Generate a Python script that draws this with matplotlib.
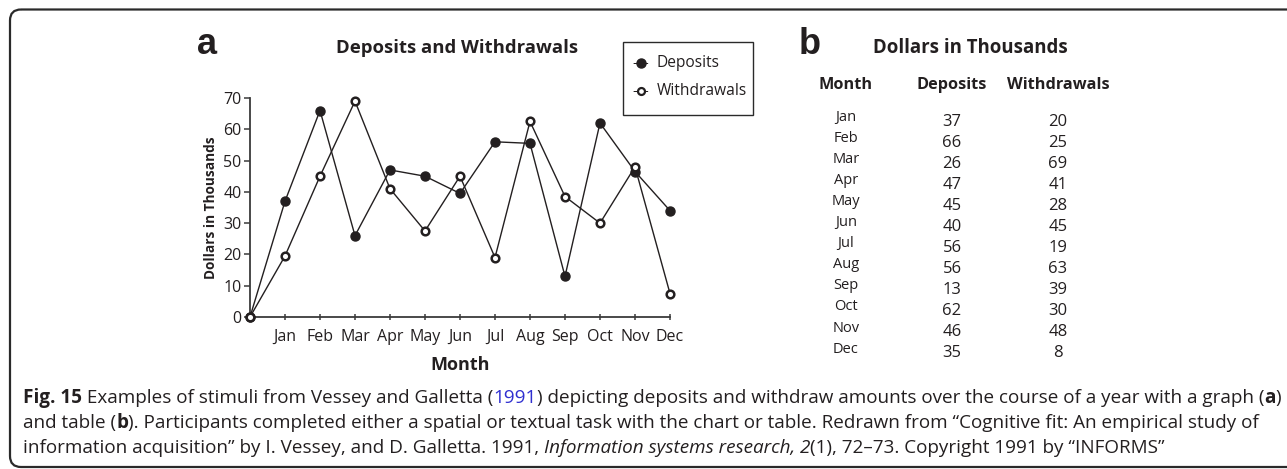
import matplotlib
matplotlib.use("Agg")
import matplotlib.pyplot as plt
from matplotlib.patches import FancyBboxPatch, Rectangle

# ---------------- data ----------------
months = ["Jan", "Feb", "Mar", "Apr", "May", "Jun",
          "Jul", "Aug", "Sep", "Oct", "Nov", "Dec"]
x_positions = [0, 1, 2, 3, 4, 5, 6, 7, 8, 9, 10, 11, 12]
deposits_graph = [0, 37, 66, 26, 47, 45, 39.5, 56, 55.5, 13, 62, 46.5, 34]
withdrawals_graph = [0, 19.5, 45, 69, 41, 27.5, 45, 19, 62.5, 38.5, 30, 48, 7.5]
y_ticks = [0, 10, 20, 30, 40, 50, 60, 70]

table_deposits = [37, 66, 26, 47, 45, 40, 56, 56, 13, 62, 46, 35]
table_withdrawals = [20, 25, 69, 41, 28, 45, 19, 63, 39, 30, 48, 8]

caption_lines = [
    [("Fig. 15", "bold"), (" Examples of stimuli from Vessey and Galletta (", "normal"),
     ("1991", "link"),
     (") depicting deposits and withdraw amounts over the course of a year with a graph (", "normal"),
     ("a", "bold"), (")", "normal")],
    [("and table (", "normal"), ("b", "bold"),
     ("). Participants completed either a spatial or textual task with the chart or table. "
      "Redrawn from \u201cCognitive fit: An empirical study of", "normal")],
    [("information acquisition\u201d by I. Vessey, and D. Galletta. 1991, ", "normal"),
     ("Information systems research, 2", "italic"),
     ("(1), 72\u201373. Copyright 1991 by \u201cINFORMS\u201d", "normal")],
]

# ---------------- style ----------------
W, H = 1287, 469
DPI = 100
INK = "#231f20"
FONT = "Open Sans"
plt.rcParams["font.family"] = [FONT, "DejaVu Sans"]

fig = plt.figure(figsize=(W / DPI, H / DPI), dpi=DPI)
fig.patch.set_facecolor("white")

# overlay axes in pixel coordinates
ov = fig.add_axes([0, 0, 1, 1])
ov.set_xlim(0, W)
ov.set_ylim(H, 0)
ov.axis("off")

# figure border (rounded), right side runs off the image
border = FancyBboxPatch((10, 9.5), 1500, 457.5,
                        boxstyle="round,pad=0,rounding_size=11",
                        fill=False, edgecolor="#2a2a2a", linewidth=1.6, clip_on=True)
ov.add_patch(border)

# ---------------- panel a: line chart ----------------
ax_l, ax_r, ax_b, ax_t = 250, 670, 317, 98
ax = fig.add_axes([ax_l / W, (H - ax_b) / H, (ax_r - ax_l) / W, (ax_b - ax_t) / H])
ax.set_facecolor("none")
ax.plot(x_positions, deposits_graph, color=INK, lw=1.0, marker="o", ms=6.5,
        mfc=INK, mec=INK, clip_on=False, zorder=3)
ax.plot(x_positions, withdrawals_graph, color=INK, lw=1.0, marker="o", ms=5.5,
        mfc="white", mec=INK, mew=1.8, clip_on=False, zorder=3)
ax.set_xlim(0, 12)
ax.set_ylim(0, 70)
ax.set_xticks(x_positions[1:])
ax.set_xticklabels(months)
ax.set_yticks(y_ticks)
for s in ["top", "right"]:
    ax.spines[s].set_visible(False)
for s in ["left", "bottom"]:
    ax.spines[s].set_color("#3a3a3a")
    ax.spines[s].set_linewidth(1.3)
ax.tick_params(axis="x", direction="inout", length=5, width=1.1, color="#3a3a3a",
               labelsize=11.5, labelcolor=INK, pad=6)
ax.tick_params(axis="y", direction="out", length=4, width=1.1, color="#3a3a3a",
               labelsize=11.5, labelcolor=INK, pad=2)
ax.set_xlabel("Month", fontsize=13, fontweight="bold", color=INK, labelpad=8)
ax.set_ylabel("Dollars in Thousands", fontsize=9.8, fontweight="bold", color=INK, labelpad=4)

ov.text(457, 48, "Deposits and Withdrawals", fontsize=13.3, fontweight="bold",
        color=INK, ha="center", va="center")
ov.text(207, 45, "a", fontsize=26, fontweight="bold", color=INK, ha="center", va="center",
        family=["Liberation Sans", "DejaVu Sans"])

# legend (manual)
ov.add_patch(Rectangle((623, 42), 130, 73, fill=False, edgecolor="#2a2a2a", lw=1.0))
leg_items = [("Deposits", INK, 6.5, 1.0), ("Withdrawals", "white", 5.0, 1.6)]
for i, (lab, fc, ms, mew) in enumerate(leg_items):
    yy = 63 + i * 28
    ov.text(635, yy, "-", fontsize=10.5, color=INK, ha="center", va="center")
    ov.text(646, yy, "-", fontsize=10.5, color=INK, ha="center", va="center")
    ov.plot([640.5], [yy], marker="o", ms=ms, mfc=fc, mec=INK, mew=mew, ls="none")
    ov.text(657, yy, lab, fontsize=11.2, color=INK, ha="left", va="center")

# ---------------- panel b: table ----------------
ov.text(810, 44, "b", fontsize=26, fontweight="bold", color=INK, ha="center", va="center",
        family=["Liberation Sans", "DejaVu Sans"])
ov.text(970, 48, "Dollars in Thousands", fontsize=13.4, fontweight="bold", color=INK,
        ha="center", va="center")
col_x = [846, 952, 1058]
for cx, head in zip(col_x, ["Month", "Deposits", "Withdrawals"]):
    ov.text(cx, 85, head, fontsize=11.7, fontweight="bold", color=INK, ha="center", va="center")
row0, step = 117.3, 21.07
for i, m in enumerate(months):
    ov.text(col_x[0], row0 + i * step, m, fontsize=10.5, color=INK, ha="center", va="center")
    ov.text(col_x[1], row0 + 4.3 + i * step, str(table_deposits[i]), fontsize=12,
            color=INK, ha="center", va="center")
    ov.text(col_x[2], row0 + 4.3 + i * step, str(table_withdrawals[i]), fontsize=12,
            color=INK, ha="center", va="center")

# ---------------- caption ----------------
fig.canvas.draw()
renderer = fig.canvas.get_renderer()
CAP_FS = 13.58


def seg_props(kind):
    p = dict(fontsize=CAP_FS, color=INK)
    if kind == "bold":
        p["fontweight"] = "bold"
    elif kind == "italic":
        p["fontstyle"] = "italic"
    elif kind == "link":
        p["color"] = "#2f2fd0"
    return p


def text_width(s, props):
    t1 = ov.text(0, 0, "x" + s + "x", **props)
    t2 = ov.text(0, 0, "xx", **props)
    w = t1.get_window_extent(renderer).width - t2.get_window_extent(renderer).width
    t1.remove()
    t2.remove()
    return w


line_y = [403, 428, 453]
for yb, segs in zip(line_y, caption_lines):
    x = 23
    for s, kind in segs:
        props = seg_props(kind)
        ov.text(x, yb, s, ha="left", va="baseline", **props)
        x += text_width(s, props)

fig.savefig("out.png", dpi=DPI, facecolor="white")
